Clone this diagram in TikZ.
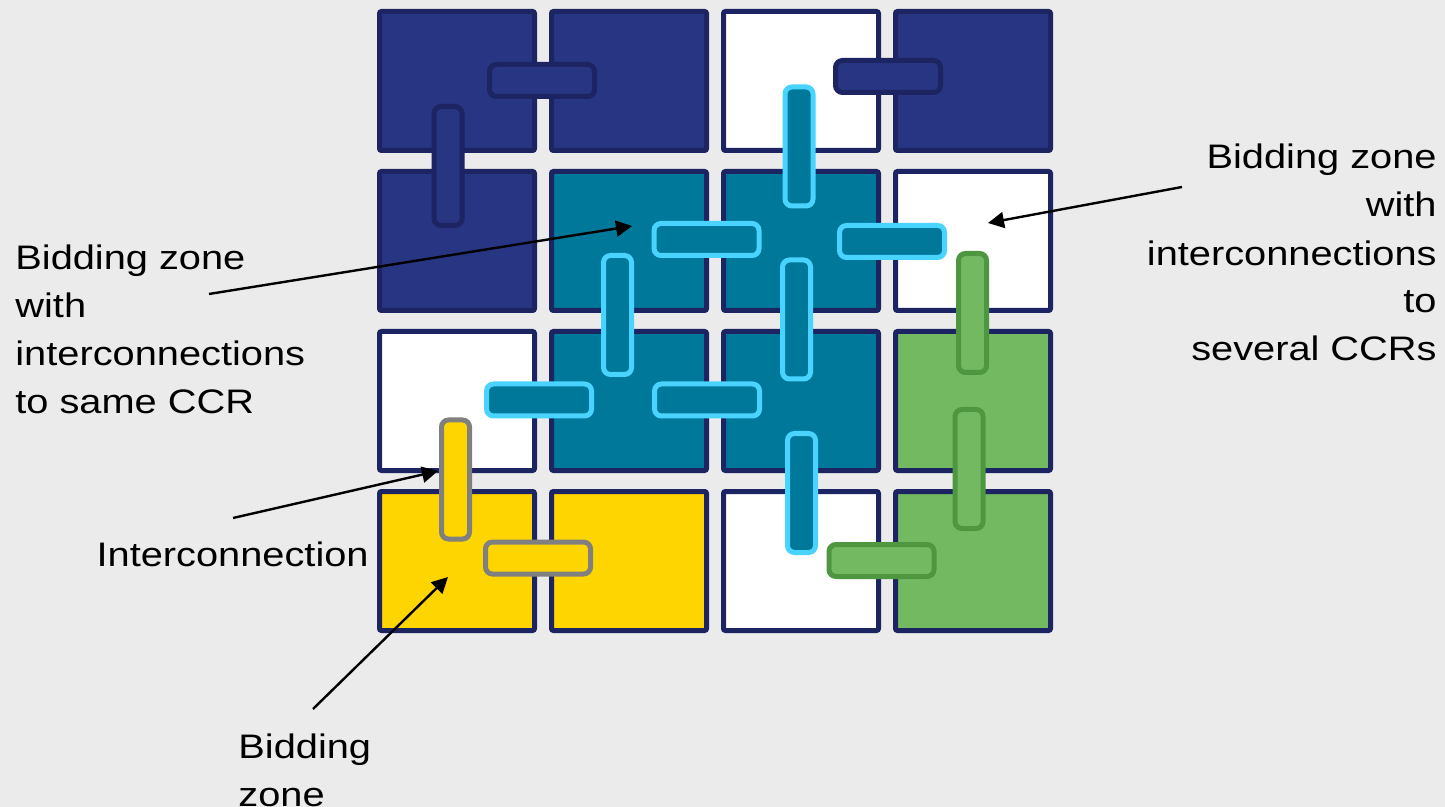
\documentclass[tikz,border=0pt]{standalone}
\usepackage{fontspec}
\setmainfont{Liberation Sans}[FakeStretch=1.17]
\usepackage{tikz}
\usetikzlibrary{arrows.meta}
\definecolor{Ink}{HTML}{000000}
\definecolor{Paper}{HTML}{EBEBEB}
\definecolor{Edge}{HTML}{1C2461}
\definecolor{Navy}{HTML}{283583}
\definecolor{Teal}{HTML}{00789A}
\definecolor{Cyan}{HTML}{48D4FF}
\definecolor{Sun}{HTML}{FFD500}
\definecolor{Stone}{HTML}{808080}
\definecolor{Leaf}{HTML}{72B962}
\definecolor{LeafEdge}{HTML}{4F9641}

\begin{document}
\begin{tikzpicture}[
    x=0.5pt,
    y=-0.5pt,
    zone/.style={rectangle, draw=Edge, line width=2.5pt, rounded corners=1pt,
                 minimum width=77.5pt, minimum height=69.5pt, inner sep=0pt},
    hlink/.style={rectangle, line width=2.5pt, rounded corners=3.5pt,
                  minimum width=52.5pt, minimum height=16pt, inner sep=0pt},
    vlink/.style={rectangle, line width=2.5pt, rounded corners=3.5pt,
                  minimum width=14pt, minimum height=59.5pt, inner sep=0pt},
    navylink/.style={draw=Edge, fill=Navy},
    teallink/.style={draw=Cyan, fill=Teal},
    sunlink/.style={draw=Stone, fill=Sun},
    leaflink/.style={draw=LeafEdge, fill=Leaf},
    note/.style={font=\fontsize{17}{24}\selectfont, text=Ink, inner sep=0pt},
    pointer/.style={-{Triangle[length=8pt,width=8pt]}, line width=1.2pt, Ink}
]

% Canvas
\path[use as bounding box, fill=Paper] (0,0) rectangle (1445,807);

% Bidding zones (4x4 grid)
\foreach \r/\c/\tint in {1/1/Navy, 1/2/Navy, 1/3/white, 1/4/Navy,
                         2/1/Navy, 2/2/Teal, 2/3/Teal, 2/4/white,
                         3/1/white, 3/2/Teal, 3/3/Teal, 3/4/Leaf,
                         4/1/Sun, 4/2/Sun, 4/3/white, 4/4/Leaf} {
    \node[zone, fill=\tint] (z\r\c) at ({457+172*(\c-1)}, {81+160*(\r-1)}) {};
}

% Navy CCR
\node[hlink, navylink] (nA) at (542,80.5) {};
\node[vlink, navylink] (nB) at (448,166) {};
\node[hlink, navylink] (nC) at (888,76.5) {};

% Teal CCR
\node[vlink, teallink] (tA) at (799,146.5) {};
\node[hlink, teallink] (tB) at (706.5,239.5) {};
\node[hlink, teallink] (tC) at (892,241.5) {};
\node[vlink, teallink] (tD) at (617.5,315) {};
\node[vlink, teallink] (tE) at (796.5,319.5) {};
\node[hlink, teallink] (tF) at (539,400) {};
\node[hlink, teallink] (tG) at (707,400) {};
\node[vlink, teallink] (tH) at (801.5,493) {};

% Green CCR
\node[vlink, leaflink] (gA) at (972.5,313) {};
\node[vlink, leaflink] (gB) at (969,469) {};
\node[hlink, leaflink] (gC) at (881.5,560.5) {};

% Yellow CCR
\node[vlink, sunlink] (yA) at (455.5,479.5) {};
\node[hlink, sunlink] (yB) at (538,558) {};

% Labels
\node[note, align=left, anchor=base west] (same) at (15,414)
    {Bidding zone\\with\\interconnections\\to same CCR};
\node[note, align=right, anchor=base east] (several) at (1437,361)
    {Bidding zone\\with\\interconnections\\to\\several CCRs};
\node[note, anchor=base east] (inter) at (369,566) {Interconnection};
\node[note, align=left, anchor=base west] (zone) at (238,806) {Bidding\\zone};

% Pointers
\coordinate (sameTail) at (209,294);
\coordinate (sameTip) at (632,226);
\coordinate (severalTail) at (1182,187);
\coordinate (severalTip) at (988,223);
\coordinate (interTail) at (233,518);
\coordinate (interTip) at (438,471);
\coordinate (zoneTail) at (313,709);
\coordinate (zoneTip) at (448,577);
\draw[pointer] (sameTail) -- (sameTip);
\draw[pointer] (severalTail) -- (severalTip);
\draw[pointer] (interTail) -- (interTip);
\draw[pointer] (zoneTail) -- (zoneTip);

\end{tikzpicture}
\end{document}
